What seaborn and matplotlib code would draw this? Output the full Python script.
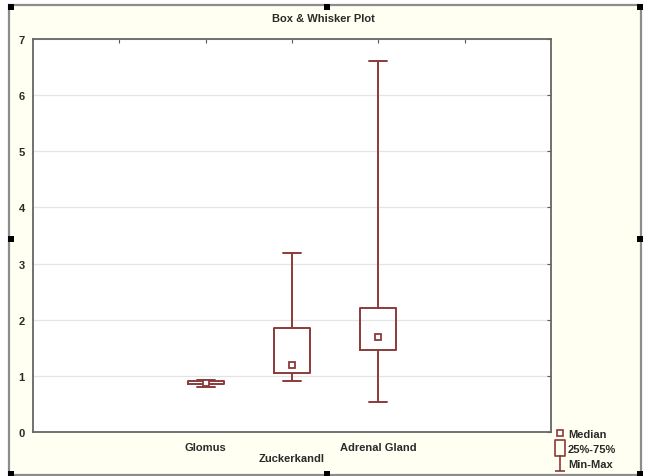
import numpy as np
import pandas as pd
import seaborn as sns
import matplotlib.pyplot as plt
from matplotlib.path import Path
from matplotlib.lines import Line2D
from matplotlib.patches import Rectangle

# five-number summaries
groups = ['Glomus', 'Zuckerkandl', 'Adrenal Gland']
mins = [0.80, 0.91, 0.53]
q1s = [0.86, 1.05, 1.46]
medians = [0.88, 1.19, 1.70]
q3s = [0.90, 1.845, 2.21]
maxs = [0.92, 3.18, 6.61]

rows = []
for g, a, b, c, d, e in zip(groups, mins, q1s, medians, q3s, maxs):
    for v in (a, b, c, d, e):
        rows.append({'group': g, 'value': v})
df = pd.DataFrame(rows)

RED = '#8b3a3a'
CREAM = '#fffff2'
TXT = '#2a2a2a'

sns.set_style('white')
plt.rcParams['font.family'] = ['Liberation Sans', 'DejaVu Sans']
plt.rcParams['font.weight'] = 'bold'

fig = plt.figure(figsize=(6.47, 4.77), dpi=100)
fig.patch.set_facecolor('white')

# cream panel with grey border, like the Statistica graph window
W, H = 647, 477
fig.add_artist(Rectangle((9 / W, 1 - 476 / H), 632 / W, 470 / H,
                         transform=fig.transFigure, facecolor=CREAM,
                         edgecolor='#8c8c8c', lw=1.6, zorder=0))
for px, py in [(11, 8), (327, 8), (640, 8), (11, 240), (640, 240),
               (11, 475), (327, 475), (640, 475)]:
    fig.add_artist(Rectangle(((px - 3) / W, 1 - (py + 3) / H), 6 / W, 6 / H,
                             transform=fig.transFigure, facecolor='black',
                             edgecolor='none', zorder=5))

ax = fig.add_axes([33 / W, 1 - 433 / H, 518 / W, 393 / H])
ax.set_facecolor('white')

sns.boxplot(data=df, x='group', y='value', order=groups, whis=(0, 100),
            width=0.42, fill=False, color=RED, linewidth=1.4,
            showfliers=False, medianprops={'visible': False}, ax=ax)
sns.pointplot(data=df, x='group', y='value', order=groups, estimator='median',
              errorbar=None, linestyle='none', marker='s', markersize=4,
              markerfacecolor='white', markeredgecolor=RED,
              markeredgewidth=1.3, color=RED, ax=ax)

ax.set_xlim(-2, 4)
ax.set_ylim(0, 7)
ax.set_xticks([-1, 0, 1, 2, 3])
ax.set_xticklabels(['', 'Glomus', '\nZuckerkandl', 'Adrenal Gland', ''])
ax.set_yticks(range(8))
ax.yaxis.grid(True, color='#e4e4e4', lw=0.9)
ax.set_axisbelow(True)
ax.set_xlabel('')
ax.set_ylabel('')
ax.tick_params(direction='in', length=3, width=0.8, color='#555555',
               top=True, right=True, labelsize=8, labelcolor=TXT)
ax.tick_params(axis='x', pad=7)
ax.tick_params(axis='y', pad=6)
for s in ax.spines.values():
    s.set_visible(True)
    s.set_color('#666666')
    s.set_linewidth(1.3)

fig.text(0.5, 1 - 19 / H, 'Box & Whisker Plot', ha='center', va='center',
         fontsize=8, color=TXT)

# legend symbols
box_path = Path([(-0.6, -1), (0.6, -1), (0.6, 1), (-0.6, 1), (-0.6, -1)],
                [Path.MOVETO, Path.LINETO, Path.LINETO, Path.LINETO, Path.CLOSEPOLY])
whisk_path = Path([(0, 1), (0, -1), (-0.7, -1), (0.7, -1)],
                  [Path.MOVETO, Path.LINETO, Path.MOVETO, Path.LINETO])
handles = [
    Line2D([], [], linestyle='none', marker='s', markersize=4,
           markerfacecolor='white', markeredgecolor=RED, markeredgewidth=1.2),
    Line2D([], [], linestyle='none', marker=box_path, markersize=12,
           markerfacecolor='none', markeredgecolor=RED, markeredgewidth=1.2),
    Line2D([], [], linestyle='none', marker=whisk_path, markersize=11,
           markerfacecolor='none', markeredgecolor=RED, markeredgewidth=1.2),
]
fig.legend(handles, ['Median', '25%-75%', 'Min-Max'], loc='upper left',
           bbox_to_anchor=(549 / W, 1 - 423 / H), frameon=False,
           fontsize=8, handlelength=0.8, handletextpad=0.3,
           labelspacing=0.45, borderpad=0.1, labelcolor=TXT)

fig.savefig('out.png', dpi=100, facecolor=fig.get_facecolor())
